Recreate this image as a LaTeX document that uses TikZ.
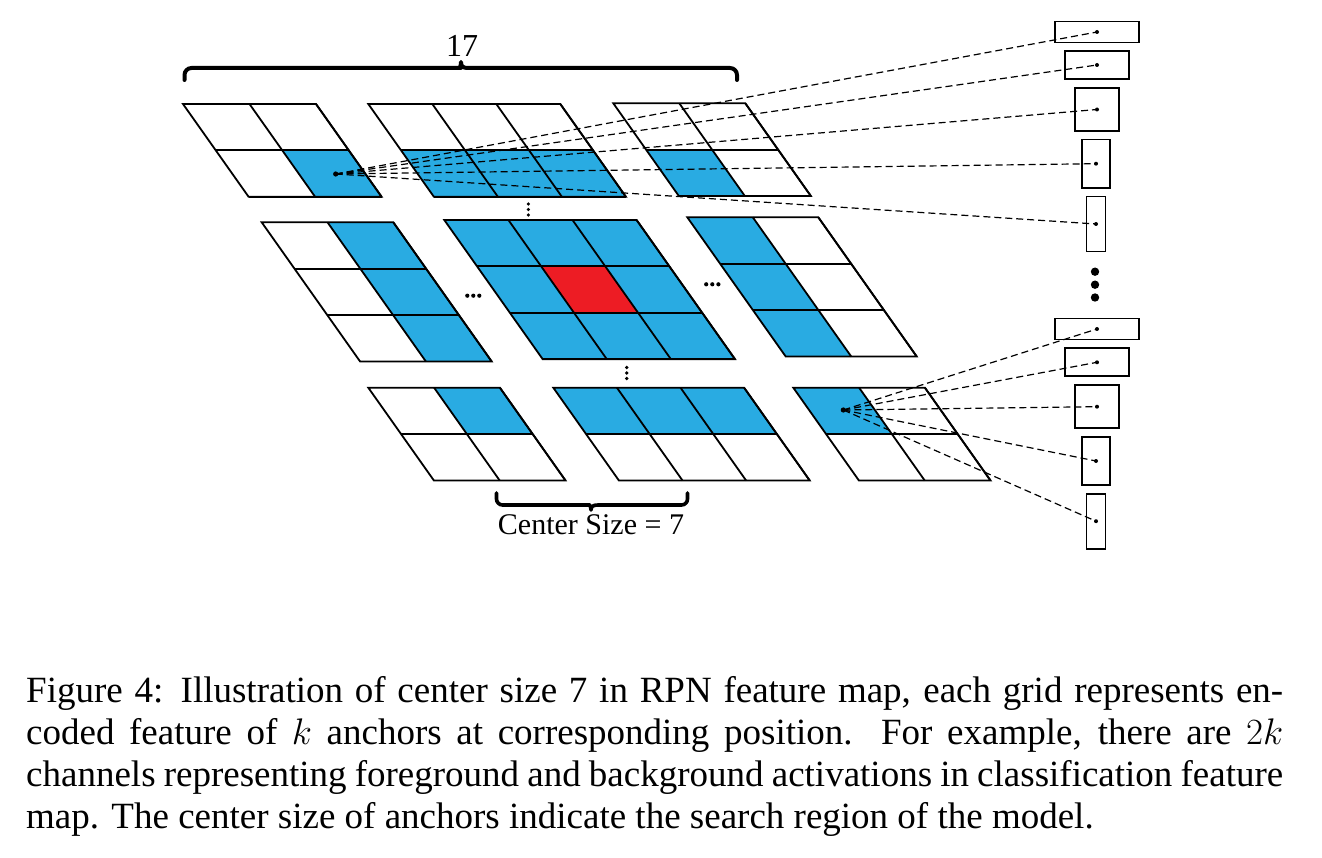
\RequirePackage{fix-cm}
\documentclass[tikz,border=0pt]{standalone}
\usepackage[no-math]{fontspec}
\setmainfont{Liberation Serif}
\definecolor{cellblue}{RGB}{41,171,226}
\definecolor{cellred}{RGB}{237,28,36}
\newcommand\gShear{32.8}
\newcommand\gRowH{46.4}
% #1 x0, #2 y0, #3 cell width, #4 col, #5 row, #6 colour
\newcommand\gCell[6]{%
  \fill[#6] ({#1+#4*#3+#5*\gShear},{#2+#5*\gRowH})
    -- ({#1+(#4+1)*#3+#5*\gShear},{#2+#5*\gRowH})
    -- ({#1+(#4+1)*#3+(#5+1)*\gShear},{#2+(#5+1)*\gRowH})
    -- ({#1+#4*#3+(#5+1)*\gShear},{#2+(#5+1)*\gRowH}) -- cycle;}
% #1 x0, #2 y0, #3 cell width, #4 cols, #5 rows
\newcommand\gFrame[5]{%
  \foreach \gi in {1,...,#4}{%
    \draw[gridline] ({#1+\gi*#3},{#2}) -- ({#1+\gi*#3+#5*\gShear},{#2+#5*\gRowH});}
  \foreach \gj in {1,...,#5}{%
    \draw[gridline] ({#1+\gj*\gShear},{#2+\gj*\gRowH}) -- ({#1+#4*#3+\gj*\gShear},{#2+\gj*\gRowH});}
  \draw[gridline] (#1,#2) -- ({#1+#4*#3},#2) -- ({#1+#4*#3+#5*\gShear},{#2+#5*\gRowH})
    -- ({#1+#5*\gShear},{#2+#5*\gRowH}) -- cycle;}
\begin{document}
\begin{tikzpicture}[x=1pt,y=-1pt,
  gridline/.style={line width=1.8pt,line join=miter},
  dashline/.style={line width=1.2pt,dash pattern=on 7pt off 4pt},
  anchorbox/.style={draw,line width=1.8pt,inner sep=0pt},
  bracepath/.style={line width=4pt,line cap=round,line join=round},
  capline/.style={anchor=base west,inner sep=0pt,font=\fontsize{37}{43}\selectfont}]
\useasboundingbox (0,0) rectangle (1322,858);
\fill[white] (0,0) rectangle (1322,858);

% ---------- fills ----------
\gCell{183}{104}{66.5}{1}{1}{cellblue}
\foreach \c in {0,1,2}{\gCell{368.3}{104}{64}{\c}{1}{cellblue}}
\gCell{613.3}{103.3}{66}{0}{1}{cellblue}
\foreach \r in {0,1,2}{\gCell{261.7}{222.3}{65.8}{1}{\r}{cellblue}}
\foreach \c in {0,1,2}{\foreach \r in {0,1,2}{\gCell{444.3}{220}{64.1}{\c}{\r}{cellblue}}}
\gCell{444.3}{220}{64.1}{1}{1}{cellred}
\foreach \r in {0,1,2}{\gCell{687.3}{217.3}{65.5}{0}{\r}{cellblue}}
\gCell{368.3}{387.7}{65.8}{1}{0}{cellblue}
\foreach \c in {0,1,2}{\gCell{553.3}{387.7}{63.6}{\c}{0}{cellblue}}
\gCell{793.3}{387.7}{65.8}{0}{0}{cellblue}

% ---------- grid lines ----------
\gFrame{183}{104}{66.5}{2}{2}
\gFrame{368.3}{104}{64}{3}{2}
\gFrame{613.3}{103.3}{66}{2}{2}
\gFrame{261.7}{222.3}{65.8}{2}{3}
\gFrame{444.3}{220}{64.1}{3}{3}
\gFrame{687.3}{217.3}{65.5}{2}{3}
\gFrame{368.3}{387.7}{65.8}{2}{2}
\gFrame{553.3}{387.7}{63.6}{3}{2}
\gFrame{793.3}{387.7}{65.8}{2}{2}

% ---------- ellipsis dots ----------
\foreach \x in {467.3,473.3,479.3}{\fill (\x,295.7) circle (2.1);}
\foreach \x in {706.2,712.3,718.4}{\fill (\x,284.3) circle (2.1);}
\foreach \y in {204,209.5,215}{\fill (528.3,\y) circle (1.8);}
\foreach \y in {367.5,373,378.5}{\fill (626.7,\y) circle (1.8);}
\foreach \y in {271.7,284.7,297.5}{\fill (1095,\y) circle (4.2);}

% ---------- braces ----------
\draw[bracepath] (184.5,80) [rounded corners=7pt] -- (184.5,68) -- (454,68) [sharp corners]
  .. controls (459,68) and (461,66.5) .. (461,62)
  .. controls (461,66.5) and (463,68) .. (468,68) [rounded corners=7pt]
  -- (737,68) -- (737,80);
\node[inner sep=0pt,anchor=base,font=\fontsize{32}{36}\selectfont] (lab17) at (462,56.5) {17};
\draw[bracepath,line width=3.6pt] (496.5,493) [rounded corners=6pt] -- (496.5,505) -- (584,505) [sharp corners]
  .. controls (589,505) and (591,506.5) .. (591,510)
  .. controls (591,506.5) and (593,505) .. (598,505) [rounded corners=6pt]
  -- (687.5,505) -- (687.5,493);
\node[inner sep=0pt,anchor=base,font=\fontsize{30}{34}\selectfont] (labcs) at (591,534.3) {Center Size = 7};

% ---------- anchor boxes ----------
\node[anchorbox,minimum width=84pt,minimum height=21pt] (a1) at (1097,32) {};
\node[anchorbox,minimum width=64pt,minimum height=28pt] (a2) at (1097,65) {};
\node[anchorbox,minimum width=44pt,minimum height=43pt] (a3) at (1097,109.5) {};
\node[anchorbox,minimum width=28pt,minimum height=48.5pt] (a4) at (1096,163.7) {};
\node[anchorbox,minimum width=19pt,minimum height=55pt] (a5) at (1096,224) {};
\node[anchorbox,minimum width=84pt,minimum height=21pt] (b1) at (1097,329) {};
\node[anchorbox,minimum width=64pt,minimum height=28pt] (b2) at (1097,362.3) {};
\node[anchorbox,minimum width=44pt,minimum height=43pt] (b3) at (1097,406.7) {};
\node[anchorbox,minimum width=28pt,minimum height=48.5pt] (b4) at (1096,461) {};
\node[anchorbox,minimum width=19pt,minimum height=55pt] (b5) at (1096,521.2) {};

% ---------- fans ----------
\coordinate (s1) at (335.7,174);
\coordinate (s2) at (843.3,410);
\foreach \n in {a1,a2,a3,a4,a5}{\draw[dashline] (s1) -- (\n.center); \fill (\n.center) circle (2);}
\foreach \n in {b1,b2,b3,b4,b5}{\draw[dashline] (s2) -- (\n.center); \fill (\n.center) circle (2);}
\fill (s1) circle (2.6);
\fill (s2) circle (2.6);

% ---------- caption ----------
\node[capline] (cap1) at (26,702.5) {\makebox[1257pt][s]{Figure 4: Illustration of center size 7 in RPN feature map, each grid represents en-}};
\node[capline] (cap2) at (26,744.5) {\makebox[1257pt][s]{coded feature of $k$ anchors at corresponding position. For example, there are $2k$}};
\node[capline] (cap3) at (26,786.5) {\makebox[1257pt][s]{channels representing foreground and background activations in classification feature}};
\node[capline] (cap4) at (26,828.5) {map. The center size of anchors indicate the search region of the model.};
\end{tikzpicture}
\end{document}
